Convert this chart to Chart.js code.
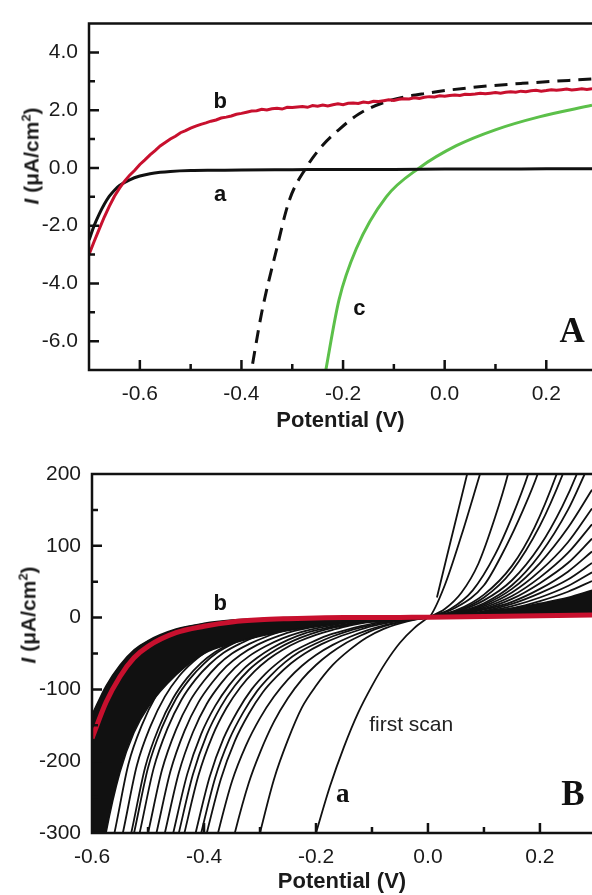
<!DOCTYPE html>
<html lang="en">
<head>
<meta charset="UTF-8">
<title>Photocurrent vs potential</title>
<script src="https://cdn.jsdelivr.net/npm/chart.js@4.4.1/dist/chart.umd.min.js"></script>
<style>
  html, body { margin: 0; padding: 0; background: #fff; overflow: hidden; }
  body { width: 592px; height: 895px; position: relative; font-family: 'Liberation Sans', Arial, sans-serif; }
  .panel { position: absolute; left: 0; width: 592px; }
  #panelA { top: 0; height: 440px; }
  #panelB { top: 440px; height: 455px; }
  .ytitle { position: absolute; font-weight: bold; font-size: 21px; color: #1a1a1a; white-space: nowrap;
            transform: translate(-50%, -50%) rotate(-90deg); line-height: 1; }
  .ytitle sup { font-size: 13px; vertical-align: 8px; line-height: 0; }
</style>
</head>
<body>
<div class="panel" id="panelA"><canvas id="chartA" width="592" height="440"></canvas></div>
<div class="panel" id="panelB"><canvas id="chartB" width="592" height="455"></canvas></div>
<div class="ytitle" style="left:31px; top:156px;"><i>I</i> (&mu;A/cm<sup>2</sup>)</div>
<div class="ytitle" style="left:28px; top:615px;"><i>I</i> (&mu;A/cm<sup>2</sup>)</div>

<script>
// ---------- PANEL A DATA ----------
// curve b (red, noisy)
const potentialRedA = [-0.70,-0.69,-0.68,-0.67,-0.66,-0.65,-0.64,-0.63,-0.62,-0.61,-0.60,-0.59,-0.58,-0.57,-0.56,-0.55,-0.54,-0.53,-0.52,-0.51,
  -0.50,-0.49,-0.48,-0.47,-0.46,-0.45,-0.44,-0.43,-0.42,-0.41,-0.40,-0.39,-0.38,-0.37,-0.36,-0.35,-0.34,-0.33,-0.32,-0.31,
  -0.30,-0.29,-0.28,-0.27,-0.26,-0.25,-0.24,-0.23,-0.22,-0.21,-0.20,-0.19,-0.18,-0.17,-0.16,-0.15,-0.14,-0.13,-0.12,-0.11,
  -0.10,-0.09,-0.08,-0.07,-0.06,-0.05,-0.04,-0.03,-0.02,-0.01,0.00,0.01,0.02,0.03,0.04,0.05,0.06,0.07,0.08,0.09,
  0.10,0.11,0.12,0.13,0.14,0.15,0.16,0.17,0.18,0.19,0.20,0.21,0.22,0.23,0.24,0.25,0.26,0.27,0.28,0.29];
const currentRedA = [-3.00,-2.55,-2.12,-1.70,-1.32,-0.98,-0.70,-0.46,-0.25,-0.08,0.12,0.28,0.45,0.60,0.76,0.88,1.00,1.10,1.22,1.29,
  1.38,1.45,1.51,1.56,1.62,1.66,1.73,1.76,1.80,1.86,1.89,1.93,1.97,1.98,2.03,2.01,2.05,2.07,2.04,2.10,
  2.09,2.11,2.13,2.10,2.16,2.14,2.18,2.15,2.19,2.22,2.19,2.24,2.25,2.23,2.28,2.26,2.31,2.30,2.33,2.36,
  2.34,2.38,2.40,2.39,2.43,2.41,2.45,2.47,2.46,2.50,2.48,2.51,2.53,2.51,2.55,2.54,2.56,2.59,2.57,2.59,
  2.61,2.59,2.62,2.64,2.62,2.66,2.64,2.67,2.69,2.66,2.68,2.71,2.69,2.71,2.73,2.70,2.72,2.74,2.72,2.74];
// curve a (black solid)
const potentialBlackA = [-0.70,-0.69,-0.68,-0.67,-0.66,-0.65,-0.64,-0.62,-0.60,-0.58,-0.56,-0.54,-0.50,-0.45,-0.40,-0.30,-0.20,-0.10,0.00,0.10,0.20,0.29];
const currentBlackA = [-2.50,-2.00,-1.60,-1.26,-0.98,-0.77,-0.61,-0.41,-0.28,-0.20,-0.15,-0.12,-0.09,-0.08,-0.07,-0.06,-0.05,-0.05,-0.04,-0.04,-0.03,-0.03];
// dashed black curve
const potentialDashA = [-0.385,-0.36,-0.332,-0.306,-0.273,-0.241,-0.208,-0.169,-0.109,-0.031,0.062,0.153,0.29];
const currentDashA = [-7.5,-5.0,-2.9,-1.13,0,0.77,1.33,1.87,2.33,2.6,2.8,2.93,3.08];
// curve c (green)
const potentialGreenA = [-0.236,-0.208,-0.174,-0.115,-0.05,0.023,0.101,0.186,0.29];
const currentGreenA = [-7.2,-4.57,-2.8,-1.0,0,0.77,1.33,1.77,2.17];

// ---------- PANEL B DATA ----------
// curve b (red, last scan)
const potentialRedB = [-0.6,-0.575,-0.55,-0.525,-0.5,-0.45,-0.4,-0.35,-0.3,-0.25,-0.2,-0.15,-0.1,-0.05,0,0.1,0.2,0.293];
const currentRedB = [-168,-118,-82,-56,-40,-21,-12,-6,-3,-1.5,-0.5,0,0,0.3,0.5,1.5,2.5,3.5];
// dense band of overlapping scans (left side)
const potentialBandL = [-0.6,-0.575,-0.55,-0.525,-0.5,-0.45,-0.4,-0.35,-0.3,-0.25,-0.2,-0.15,-0.1,-0.05,0];
const currentBandOuterL = [-135,-95,-66,-45,-32,-16,-8,-3.5,-1.5,0,0,0,0,0,0];
const currentBandInnerL = [-420,-300,-215,-160,-125,-80,-50,-36,-26,-18,-12,-7,-4,-2,0];
// dense band (right side)
const potentialBandR = [0,0.05,0.1,0.15,0.2,0.25,0.293];
const currentBandLowR = [0.5,1,1.5,2,2.5,3,3.5];
const currentBandHighR = [0,4,8,13,20,28,38];
// individual scans, cathodic side [potential, current]
const scansLeftB = [
  [[-0.215,-340],[-0.2,-300],[-0.175,-235],[-0.15,-180],[-0.125,-133],[-0.1,-95],[-0.075,-62],[-0.05,-35],[-0.025,-15],[0,0]],
  [[-0.315,-350],[-0.3,-300],[-0.275,-225],[-0.25,-170],[-0.225,-125],[-0.2,-95],[-0.17,-66],[-0.14,-45],[-0.11,-28],[-0.08,-16],[-0.05,-8],[-0.025,-3],[0,0]],
  [[-0.36,-350],[-0.345,-300],[-0.32,-230],[-0.3,-188],[-0.275,-145],[-0.25,-112],[-0.225,-86],[-0.2,-66],[-0.175,-50],[-0.15,-37],[-0.12,-25],[-0.09,-15],[-0.06,-8],[-0.03,-3],[0,0]],
  [[-0.39,-350],[-0.375,-300],[-0.35,-228],[-0.325,-178],[-0.3,-140],[-0.275,-110],[-0.25,-86],[-0.225,-67],[-0.2,-52],[-0.17,-38],[-0.14,-27],[-0.11,-18],[-0.08,-11],[-0.05,-6],[-0.025,-2.5],[0,0]],
  [[-0.41,-350],[-0.395,-300],[-0.37,-225],[-0.345,-172],[-0.32,-134],[-0.295,-104],[-0.27,-82],[-0.245,-64],[-0.22,-50],[-0.19,-37],[-0.16,-27],[-0.13,-19],[-0.1,-12],[-0.07,-7],[-0.04,-3.5],[0,0]],
  [[-0.42,-350],[-0.405,-300],[-0.38,-223],[-0.355,-170],[-0.33,-132],[-0.305,-102],[-0.28,-80],[-0.255,-62],[-0.23,-48],[-0.2,-36],[-0.17,-26],[-0.14,-18],[-0.11,-12],[-0.08,-7],[-0.05,-4],[0,0]],
  [[-0.43,-350],[-0.415,-300],[-0.39,-222],[-0.365,-168],[-0.34,-130],[-0.315,-100],[-0.29,-78],[-0.265,-61],[-0.24,-47],[-0.21,-35],[-0.18,-25],[-0.15,-18],[-0.12,-12],[-0.09,-7],[-0.06,-4],[-0.03,-1.5],[0,0]],
  [[-0.45,-350],[-0.435,-300],[-0.41,-220],[-0.385,-165],[-0.36,-126],[-0.335,-97],[-0.31,-75],[-0.285,-58],[-0.26,-45],[-0.23,-33],[-0.2,-24],[-0.17,-17],[-0.14,-11],[-0.1,-6],[-0.06,-3],[0,0]],
  [[-0.46,-350],[-0.445,-300],[-0.42,-219],[-0.395,-163],[-0.37,-124],[-0.345,-95],[-0.32,-73],[-0.295,-57],[-0.27,-44],[-0.24,-32],[-0.21,-23],[-0.18,-16],[-0.15,-11],[-0.11,-6],[-0.06,-3],[0,0]],
  [[-0.47,-350],[-0.455,-300],[-0.43,-218],[-0.405,-162],[-0.38,-123],[-0.355,-94],[-0.33,-72],[-0.305,-56],[-0.28,-43],[-0.25,-31],[-0.22,-22],[-0.19,-16],[-0.16,-11],[-0.12,-6],[-0.07,-3],[0,0]],
  [[-0.485,-350],[-0.47,-300],[-0.445,-216],[-0.42,-160],[-0.395,-120],[-0.37,-92],[-0.345,-70],[-0.32,-54],[-0.29,-40],[-0.26,-29],[-0.23,-21],[-0.2,-15],[-0.16,-9],[-0.12,-5],[-0.07,-2.5],[0,0]],
  [[-0.5,-350],[-0.485,-300],[-0.46,-214],[-0.435,-158],[-0.41,-118],[-0.385,-90],[-0.36,-68],[-0.335,-52],[-0.305,-38],[-0.275,-28],[-0.245,-20],[-0.21,-14],[-0.17,-9],[-0.13,-5],[-0.08,-2],[0,0]],
  [[-0.515,-350],[-0.5,-300],[-0.475,-212],[-0.45,-156],[-0.425,-116],[-0.4,-88],[-0.375,-66],[-0.35,-50],[-0.32,-37],[-0.29,-27],[-0.26,-19],[-0.22,-13],[-0.18,-8],[-0.14,-5],[-0.08,-2],[0,0]],
  [[-0.53,-350],[-0.515,-300],[-0.49,-210],[-0.465,-154],[-0.44,-114],[-0.415,-86],[-0.39,-65],[-0.365,-49],[-0.335,-36],[-0.305,-26],[-0.27,-18],[-0.23,-12],[-0.19,-8],[-0.14,-4],[-0.08,-2],[0,0]],
  [[-0.54,-350],[-0.525,-300],[-0.5,-209],[-0.475,-153],[-0.45,-113],[-0.425,-85],[-0.4,-64],[-0.375,-48],[-0.345,-35],[-0.315,-25],[-0.28,-17],[-0.24,-11],[-0.195,-7],[-0.145,-4],[-0.08,-1.5],[0,0]],
  [[-0.545,-350],[-0.53,-300],[-0.505,-208],[-0.48,-152],[-0.455,-112],[-0.43,-84],[-0.405,-63],[-0.38,-48],[-0.35,-35],[-0.32,-25],[-0.285,-17],[-0.245,-11],[-0.2,-7],[-0.15,-4],[-0.08,-1.5],[0,0]],
  [[-0.56,-350],[-0.545,-300],[-0.52,-206],[-0.495,-150],[-0.47,-110],[-0.445,-82],[-0.42,-62],[-0.395,-47],[-0.365,-34],[-0.335,-24],[-0.3,-16],[-0.26,-10],[-0.21,-6],[-0.16,-3.5],[-0.08,-1.5],[0,0]],
  [[-0.575,-350],[-0.56,-300],[-0.535,-204],[-0.51,-148],[-0.485,-108],[-0.46,-80],[-0.435,-60],[-0.41,-45],[-0.38,-33],[-0.35,-23],[-0.315,-15],[-0.275,-10],[-0.225,-6],[-0.17,-3],[-0.09,-1],[0,0]]
];
// individual scans, anodic side [potential, current]
const scansRightB = [
  [[0.016,28],[0.070,200],[0.075,215]],
  [[0,0],[0.005,3],[0.03,45],[0.06,115],[0.093,200],[0.1,218]],
  [[0,0],[0.03,12],[0.06,35],[0.09,75],[0.12,140],[0.143,200],[0.155,240]],
  [[0,0],[0.04,12],[0.08,38],[0.12,88],[0.15,140],[0.179,200],[0.19,230]],
  [[0,0],[0.05,14],[0.1,45],[0.14,100],[0.17,150],[0.196,200],[0.21,235]],
  [[0,0],[0.05,10],[0.1,32],[0.15,72],[0.19,125],[0.23,200],[0.245,235]],
  [[0,0],[0.05,9],[0.1,28],[0.15,65],[0.2,128],[0.241,200],[0.255,230]],
  [[0,0],[0.05,8],[0.1,24],[0.15,52],[0.2,100],[0.24,155],[0.266,200],[0.28,230]],
  [[0,0],[0.05,7],[0.1,20],[0.15,45],[0.2,88],[0.25,150],[0.28,200],[0.293,222]],
  [[0,0],[0.05,6],[0.1,18],[0.15,40],[0.2,76],[0.25,125],[0.293,178]],
  [[0,0],[0.05,5],[0.1,16],[0.15,35],[0.2,65],[0.25,105],[0.293,152]],
  [[0,0],[0.05,5],[0.1,14],[0.15,30],[0.2,56],[0.25,90],[0.293,130]],
  [[0,0],[0.05,4],[0.1,12],[0.15,26],[0.2,48],[0.25,76],[0.293,110]],
  [[0,0],[0.05,4],[0.1,11],[0.15,22],[0.2,40],[0.25,64],[0.293,92]],
  [[0,0],[0.05,3],[0.1,9],[0.15,19],[0.2,34],[0.25,53],[0.293,76]],
  [[0,0],[0.05,3],[0.1,8],[0.15,16],[0.2,28],[0.25,44],[0.293,63]],
  [[0,0],[0.05,2],[0.1,7],[0.15,13],[0.2,23],[0.25,36],[0.293,51]]
];

// text notes, in data units
const notesA = [
  { text: 'b', x: -0.442, y: 2.27, kind: 'sans' },
  { text: 'a', x: -0.442, y: -0.93, kind: 'sans' },
  { text: 'c', x: -0.168, y: -4.87, kind: 'sans' },
  { text: 'A', x: 0.251, y: -5.73, kind: 'panel' }
];
const notesB = [
  { text: 'b', x: -0.371, y: 19, kind: 'sans' },
  { text: 'first scan', x: -0.030, y: -150, kind: 'plain' },
  { text: 'a', x: -0.152, y: -247, kind: 'serif' },
  { text: 'B', x: 0.259, y: -249, kind: 'panel' }
];

// ---------- HELPERS ----------
const INK = '#111111';
const RED = '#c8102e';
const GREEN = '#5cc04a';
const noteFonts = {
  sans: 'bold 22px "Liberation Sans", Arial, sans-serif',
  plain: '21px "Liberation Sans", Arial, sans-serif',
  serif: 'bold 27px "Liberation Serif", "Times New Roman", serif',
  panel: 'bold 35px "Liberation Serif", "Times New Roman", serif'
};

function pts(xs, ys) { return xs.map((x, i) => ({ x, y: ys[i] })); }
function pairs(list) { return list.map(p => ({ x: p[0], y: p[1] })); }

// frame (left, bottom, top) with inward tick marks
const frameTicks = {
  id: 'frameTicks',
  afterDatasetsDraw(chart) {
    const { ctx, chartArea: a, scales: { x, y } } = chart;
    ctx.save();
    ctx.strokeStyle = INK;
    ctx.lineWidth = 2.5;
    ctx.beginPath();
    ctx.moveTo(a.right + 2, a.top);
    ctx.lineTo(a.left, a.top);
    ctx.lineTo(a.left, a.bottom);
    ctx.lineTo(a.right + 2, a.bottom);
    ctx.stroke();
    ctx.beginPath();
    x.ticks.forEach(t => {
      const px = x.getPixelForValue(t.value);
      if (px <= a.left + 1 || px >= a.right - 1) return;
      const len = t.label ? 10 : 6;
      ctx.moveTo(px, a.bottom);
      ctx.lineTo(px, a.bottom - len);
    });
    y.ticks.forEach(t => {
      const py = y.getPixelForValue(t.value);
      if (py <= a.top + 1 || py >= a.bottom - 1) return;
      const len = t.label ? 10 : 6;
      ctx.moveTo(a.left, py);
      ctx.lineTo(a.left + len, py);
    });
    ctx.stroke();
    ctx.restore();
  }
};

const textNotes = {
  id: 'textNotes',
  afterDatasetsDraw(chart, args, opts) {
    const { ctx, scales: { x, y } } = chart;
    ctx.save();
    ctx.textAlign = 'center';
    ctx.textBaseline = 'middle';
    (opts.items || []).forEach(n => {
      ctx.font = noteFonts[n.kind];
      ctx.fillStyle = n.kind === 'plain' ? '#222' : INK;
      ctx.fillText(n.text, x.getPixelForValue(n.x), y.getPixelForValue(n.y));
    });
    ctx.restore();
  }
};

const tickFont = { family: '"Liberation Sans", Arial, sans-serif', size: 21 };

function baseOptions(cfg) {
  return {
    responsive: false,
    animation: false,
    layout: { padding: { top: cfg.top, right: 0, left: 0, bottom: 0 } },
    elements: { point: { radius: 0 } },
    plugins: { legend: { display: false }, tooltip: { enabled: false }, textNotes: { items: cfg.notes } },
    scales: {
      x: {
        type: 'linear', min: cfg.xMin, max: cfg.xMax,
        grid: { display: false, drawTicks: false }, border: { display: false },
        afterFit: s => { s.height = cfg.xHeight; },
        ticks: {
          stepSize: 0.1, includeBounds: false, autoSkip: false, maxRotation: 0,
          padding: 12, color: '#1a1a1a', font: tickFont,
          callback: v => { const r = Math.round(v * 10); return r % 2 === 0 ? (r / 10).toFixed(1) : ''; }
        },
        title: {
          display: true, text: 'Potential (V)', color: '#1a1a1a',
          font: { family: '"Liberation Sans", Arial, sans-serif', size: 22, weight: 'bold' },
          padding: { top: 0, bottom: cfg.titlePad }
        }
      },
      y: {
        type: 'linear', min: cfg.yMin, max: cfg.yMax,
        grid: { display: false, drawTicks: false }, border: { display: false },
        afterFit: s => { s.width = cfg.yWidth; },
        ticks: {
          stepSize: cfg.yStep, includeBounds: false, autoSkip: false,
          padding: 11, color: '#1a1a1a', font: tickFont,
          callback: cfg.yLabel
        }
      }
    }
  };
}

// ---------- CHART A ----------
new Chart(document.getElementById('chartA'), {
  type: 'line',
  data: {
    datasets: [
      { label: 'b', data: pts(potentialRedA, currentRedA), borderColor: RED, borderWidth: 3, tension: 0, order: 0 },
      { label: 'a', data: pts(potentialBlackA, currentBlackA), borderColor: INK, borderWidth: 3, cubicInterpolationMode: 'monotone', order: 1 },
      { label: 'dashed', data: pts(potentialDashA, currentDashA), borderColor: INK, borderWidth: 3, borderDash: [13, 8], cubicInterpolationMode: 'monotone', order: 2 },
      { label: 'c', data: pts(potentialGreenA, currentGreenA), borderColor: GREEN, borderWidth: 3, cubicInterpolationMode: 'monotone', order: 3 }
    ]
  },
  options: baseOptions({
    top: 13, xMin: -0.7001, xMax: 0.29, xHeight: 70, titlePad: 6,
    yMin: -7, yMax: 5, yStep: 1, yWidth: 89, notes: notesA,
    yLabel: v => { const r = Math.round(v); return r % 2 === 0 ? r.toFixed(1) : ''; }
  }),
  plugins: [frameTicks, textNotes]
});

// ---------- CHART B ----------
const datasetsB = [
  { label: 'b', data: pts(potentialRedB, currentRedB), borderColor: RED, borderWidth: 5, cubicInterpolationMode: 'monotone', order: 0 },
  { label: 'bandOuterL', data: pts(potentialBandL, currentBandOuterL), borderColor: INK, borderWidth: 1.5, cubicInterpolationMode: 'monotone', fill: false, order: 1 },
  { label: 'bandInnerL', data: pts(potentialBandL, currentBandInnerL), borderColor: INK, borderWidth: 1.5, cubicInterpolationMode: 'monotone', fill: '-1', backgroundColor: INK, order: 1 },
  { label: 'bandLowR', data: pts(potentialBandR, currentBandLowR), borderColor: INK, borderWidth: 1.5, cubicInterpolationMode: 'monotone', fill: false, order: 1 },
  { label: 'bandHighR', data: pts(potentialBandR, currentBandHighR), borderColor: INK, borderWidth: 1.5, cubicInterpolationMode: 'monotone', fill: '-1', backgroundColor: INK, order: 1 }
];
scansLeftB.concat(scansRightB).forEach((s, i) => {
  datasetsB.push({ label: 'scan' + i, data: pairs(s), borderColor: INK, borderWidth: 1.8, cubicInterpolationMode: 'monotone', fill: false, order: 2 });
});

new Chart(document.getElementById('chartB'), {
  type: 'line',
  data: { datasets: datasetsB },
  options: baseOptions({
    top: 34, xMin: -0.6001, xMax: 0.293, xHeight: 62, titlePad: 0,
    yMin: -300, yMax: 200, yStep: 50, yWidth: 92, notes: notesB,
    yLabel: v => (Math.round(v) % 100 === 0 ? String(Math.round(v)) : '')
  }),
  plugins: [frameTicks, textNotes]
});
</script>
</body>
</html>
